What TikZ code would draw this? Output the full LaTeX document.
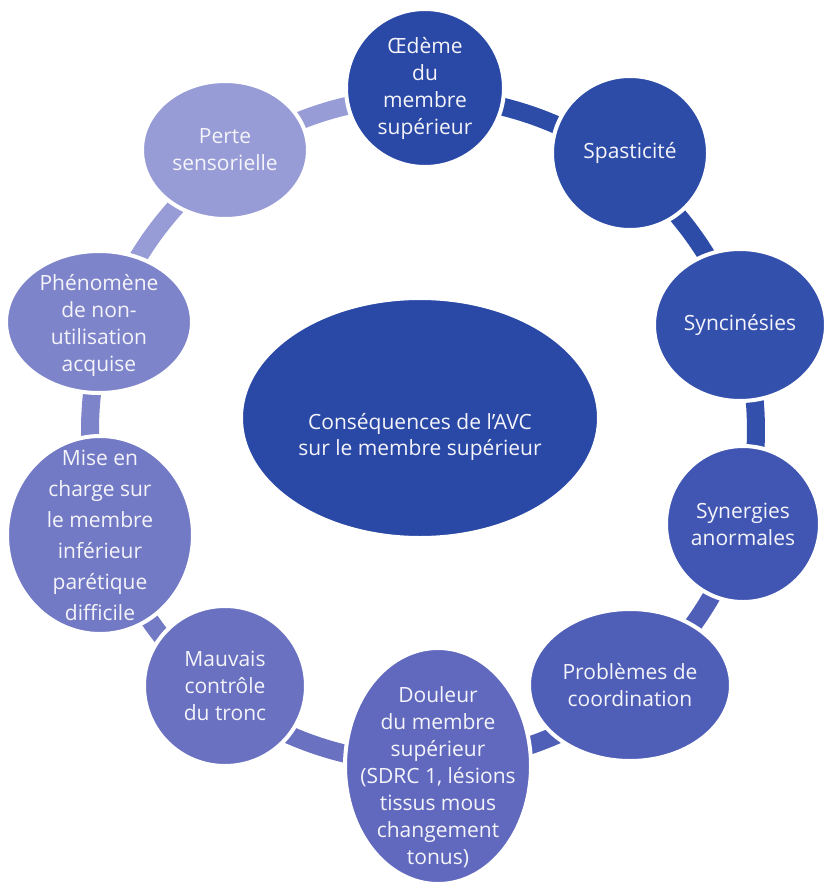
\documentclass[tikz,border=0pt]{standalone}
\usepackage{fontspec}
\setmainfont{Open Sans}
\usetikzlibrary{shapes.geometric}
\definecolor{cA}{HTML}{2A49A6}
\definecolor{cB}{HTML}{2D4CA8}
\definecolor{cC}{HTML}{3450AD}
\definecolor{cD}{HTML}{4156B2}
\definecolor{cE}{HTML}{4F5FB8}
\definecolor{cF}{HTML}{6169BE}
\definecolor{cG}{HTML}{6A71C1}
\definecolor{cH}{HTML}{737AC5}
\definecolor{cI}{HTML}{7E84CA}
\definecolor{cJ}{HTML}{989CD6}
\definecolor{txtcol}{HTML}{F4F4FA}
\begin{document}
\begin{tikzpicture}[x=1pt,y=-1pt,
  bub/.style={ellipse, fill=#1, draw=white, line width=4pt, inner sep=0pt},
  txt/.style={text=txtcol, align=center, inner sep=0pt, font=\fontsize{21}{27}\selectfont},
  ringseg/.style={line width=18pt, draw=#1}]
\useasboundingbox (0,0) rectangle (823,883);
\coordinate (ring) at (423,430);
% ring segments
\draw[ringseg=cB, shift={(ring)}] plot[domain=270:306.8, samples=30] (\x:333);
\draw[ringseg=cB, shift={(ring)}] plot[domain=306.8:341.5, samples=30] (\x:333);
\draw[ringseg=cC, shift={(ring)}] plot[domain=341.5:376.4, samples=30] (\x:333);
\draw[ringseg=cE, shift={(ring)}] plot[domain=376.4:411, samples=30] (\x:333);
\draw[ringseg=cE, shift={(ring)}] plot[domain=411:447.4, samples=30] (\x:333);
\draw[ringseg=cG, shift={(ring)}] plot[domain=447.4:487.7, samples=30] (\x:333);
\draw[ringseg=cH, shift={(ring)}] plot[domain=487.7:522, samples=30] (\x:333);
\draw[ringseg=cI, shift={(ring)}] plot[domain=522:558.4, samples=30] (\x:333);
\draw[ringseg=cJ, shift={(ring)}] plot[domain=558.4:594.7, samples=30] (\x:333);
\draw[ringseg=cJ, shift={(ring)}] plot[domain=594.7:630, samples=30] (\x:333);
% bubbles
\node[bub=cA, minimum width=158pt, minimum height=158pt,
  label={[txt]center:Œdème\\du\\membre\\supérieur}] (n1) at (425,88) {};
\node[bub=cB, minimum width=156pt, minimum height=154pt,
  label={[txt]center:Spasticité}] (n2) at (630,153) {};
\node[bub=cC, minimum width=172pt, minimum height=152pt,
  label={[txt]center:Syncinésies}] (n3) at (740,325) {};
\node[bub=cD, minimum width=154pt, minimum height=156pt,
  label={[txt]center:Synergies\\anormales}] (n4) at (743,524) {};
\node[bub=cE, minimum width=202pt, minimum height=152pt,
  label={[txt]center:Problèmes de\\coordination}] (n5) at (630,685) {};
\node[bub=cF, minimum width=186pt, minimum height=236pt,
  label={[txt, yshift=-11pt]center:Douleur\\du membre\\supérieur\\(SDRC 1, lésions\\tissus mous\\changement\\tonus)}] (n6) at (438,766) {};
\node[bub=cG, minimum width=162pt, minimum height=160pt,
  label={[txt]center:Mauvais\\contrôle\\du tronc}] (n7) at (225,686) {};
\node[bub=cH, minimum width=186pt, minimum height=198pt,
  label={[txt, font=\fontsize{21}{31}\selectfont]center:Mise en\\charge sur\\le membre\\inférieur\\parétique\\difficile}] (n8) at (100,535) {};
\node[bub=cI, minimum width=186pt, minimum height=142pt,
  label={[txt, yshift=-3pt]center:Phénomène\\de non-\\utilisation\\acquise}] (n9) at (99,322) {};
\node[bub=cJ, minimum width=166pt, minimum height=138pt,
  label={[txt]center:Perte\\sensorielle}] (n10) at (225,150) {};
\node[bub=cA, minimum width=358pt, minimum height=240pt,
  label={[txt, font=\fontsize{21}{26}\selectfont, yshift=-19pt]center:Conséquences de l’AVC\\sur le membre supérieur}] (c) at (420,418) {};
\end{tikzpicture}
\end{document}
